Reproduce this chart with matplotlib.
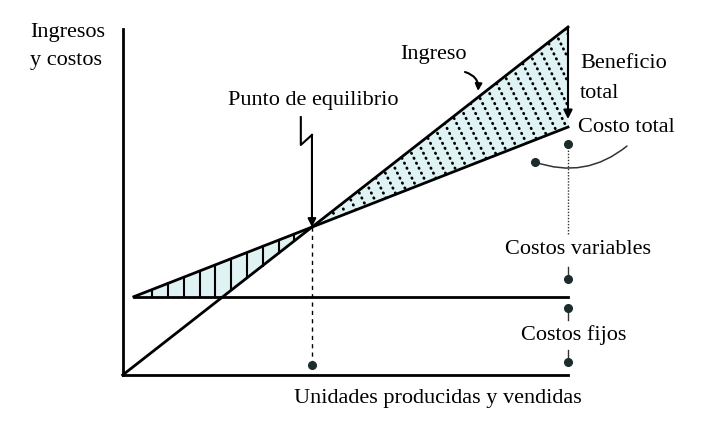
import numpy as np
import matplotlib.pyplot as plt

plt.rcParams['font.family'] = ['Liberation Serif', 'DejaVu Serif']

# datos (unidades arbitrarias)
unidades = [0, 100]
ingreso = [0, 100]
unidades_costo = [2.5, 100]
costo_fijo = [22.5, 22.5]
costo_total = [22.5, 71.25]
y_max = 99.5

# punto de equilibrio: interseccion ingreso / costo total
v = (costo_total[1] - costo_total[0]) / (unidades_costo[1] - unidades_costo[0])
p = (ingreso[1] - ingreso[0]) / (unidades[1] - unidades[0])
pe_q = (costo_total[0] - v * unidades_costo[0]) / (p - v)
pe_y = p * pe_q
q_max = unidades[1]

# escala: pixeles por unidad
sx, sy = 4.453, 3.48
x0, y0 = 122.7, 375.0


def P(x, y):
    # posicion en pixeles -> coordenadas de datos (solo para textos)
    return (x - x0) / sx, (y0 - y) / sy


fig = plt.figure(figsize=(7.24, 4.26), dpi=100)
ax = fig.add_axes([0, 0, 1, 1])
ax.set_xlim(-x0 / sx, (724 - x0) / sx)
ax.set_ylim(-(426 - y0) / sy, y0 / sy)
ax.axis('off')

fill_c = '#dff2f4'
lw = 2.0

# zona de perdida
q_l = np.array([unidades_costo[0], costo_fijo[0] / p, pe_q])
top_l = np.interp(q_l, unidades_costo, costo_total)
bot_l = np.maximum(np.interp(q_l, unidades, ingreso), costo_fijo[0])
ax.fill_between(q_l, bot_l, top_l, color=fill_c, lw=0, zorder=1)
for q in np.arange(6.6, pe_q - 1, 3.55):
    b = max(p * q, costo_fijo[0])
    t = np.interp(q, unidades_costo, costo_total)
    ax.plot([q, q], [b, t], color='k', lw=1.5, zorder=2)

# zona de beneficio
q_g = np.array([pe_q, q_max])
top_g = np.interp(q_g, unidades, ingreso)
bot_g = np.interp(q_g, unidades_costo, costo_total)
poly = ax.fill_between(q_g, bot_g, top_g, color=fill_c, lw=0, zorder=1)
clip = poly.get_paths()[0]
m = -2 * sx / sy
for b in np.arange(140, 370, 6.9):
    qq = np.array([30, 110])
    ln, = ax.plot(qq, b + m * qq, color='k', lw=2.0,
                  linestyle=(0, (0.2, 1.8)), dash_capstyle='round', zorder=2)
    ln.set_clip_path(clip, ax.transData)

# lineas principales
ax.plot(unidades, ingreso, color='k', lw=lw, zorder=3)
ax.plot(unidades_costo, costo_total, color='k', lw=lw, zorder=3)
ax.plot(unidades_costo, costo_fijo, color='k', lw=lw, zorder=3)
ax.plot([0, 0], [0, y_max], color='k', lw=2.0, zorder=3)
ax.plot([0, q_max], [0, 0], color='k', lw=2.0, zorder=3)

# flecha beneficio total
ax.annotate('', xy=(q_max, costo_total[1] + 2.3), xytext=(q_max, ingreso[1]),
            arrowprops=dict(arrowstyle='-|>', color='k', lw=1.5,
                            mutation_scale=13, shrinkA=0, shrinkB=0), zorder=4)

# linea punteada del punto de equilibrio
ax.plot([pe_q, pe_q], [pe_y, 3.0], color='k', lw=1.0, ls=(0, (3, 3)), zorder=2)
ax.plot(pe_q, 3.0, 'o', color='#1c2b2b', ms=5.5, zorder=4)

# flecha en zigzag del punto de equilibrio
zx = [pe_q - 2.5, pe_q - 2.5, pe_q]
zy = [74.1, 66.1, 69.0]
ax.plot(zx, zy, color='k', lw=1.5, zorder=4)
ax.annotate('', xy=(pe_q, pe_y), xytext=(pe_q, zy[-1]),
            arrowprops=dict(arrowstyle='-|>', color='k', lw=1.5,
                            mutation_scale=12, shrinkA=0, shrinkB=0), zorder=4)

# flecha curva de ingreso
ax.annotate('', xy=P(478, 91), xytext=P(465, 72),
            arrowprops=dict(arrowstyle='-|>', color='k', lw=1.5,
                            mutation_scale=10, shrinkA=0, shrinkB=0,
                            connectionstyle='arc3,rad=-0.4'), zorder=4)

# cotas a la derecha
dot = dict(color='#1c2b2b', ms=5.5, zorder=4)
y_dot_top = costo_total[1] - 5.0
ax.plot([q_max, q_max], [y_dot_top, 40.2], color='#333333', lw=1.0, ls=(0, (1, 1.2)))
ax.plot(q_max, y_dot_top, 'o', **dot)
ax.annotate('', xy=P(627, 146), xytext=P(535, 162),
            arrowprops=dict(arrowstyle='-', color='#333333', lw=1.1,
                            shrinkA=0, shrinkB=0,
                            connectionstyle='arc3,rad=0.28'))
ax.plot(*P(535, 162), 'o', **dot)

cv_dot = costo_fijo[0] + 5.1
ax.plot([q_max, q_max], [cv_dot, cv_dot + 3.5], color='#333333', lw=1.0)
ax.plot(q_max, cv_dot, 'o', **dot)
cf_dot = costo_fijo[0] - 3.3
ax.plot([q_max, q_max], [cf_dot, cf_dot - 3.5], color='#333333', lw=1.0)
ax.plot(q_max, cf_dot, 'o', **dot)
ax.plot([q_max, q_max], [3.7, 7.2], color='#333333', lw=1.0)
ax.plot(q_max, 3.7, 'o', **dot)

# textos
fs = 16
ax.text(*P(30, 32), 'Ingresos', fontsize=fs, va='center', ha='left')
ax.text(*P(30, 61), 'y costos', fontsize=fs, va='center', ha='left')
ax.text(*P(313, 100), 'Punto de equilibrio', fontsize=fs, va='center', ha='center')
ax.text(*P(433, 55), 'Ingreso', fontsize=fs, va='center', ha='center')
ax.text(*P(580, 63), 'Beneficio', fontsize=fs, va='center', ha='left')
ax.text(*P(580, 94), 'total', fontsize=fs, va='center', ha='left')
ax.text(*P(578, 127), 'Costo total', fontsize=fs, va='center', ha='left')
ax.text(*P(578, 250), 'Costos variables', fontsize=fs, va='center', ha='center')
ax.text(*P(574, 335), 'Costos fijos', fontsize=fs, va='center', ha='center')
ax.text(*P(438, 398), 'Unidades producidas y vendidas', fontsize=fs,
        va='center', ha='center')

fig.savefig('out.png', dpi=100, facecolor='white')
